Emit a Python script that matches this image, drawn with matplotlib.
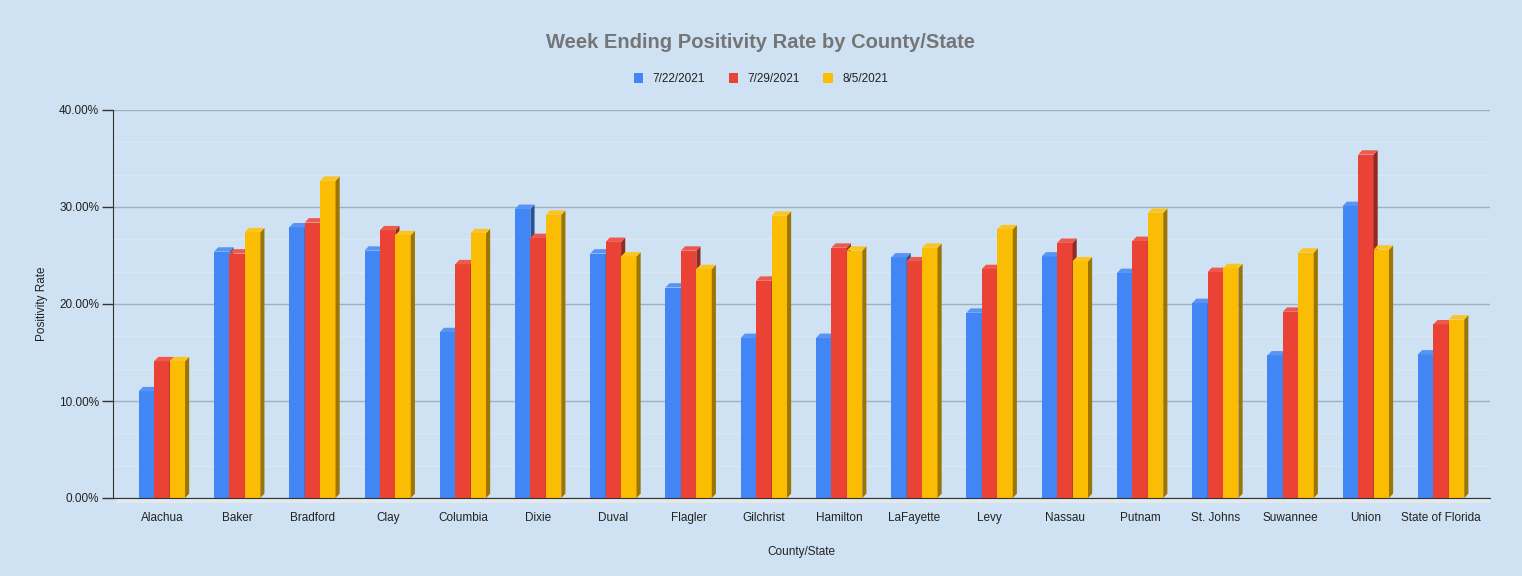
import matplotlib
matplotlib.use("Agg")
import matplotlib.pyplot as plt
from matplotlib.patches import Polygon
from matplotlib.ticker import FuncFormatter, MultipleLocator
import matplotlib.colors as mcolors
import numpy as np

plt.rcParams["font.family"] = ["Liberation Sans", "DejaVu Sans"]

counties = ["Alachua", "Baker", "Bradford", "Clay", "Columbia", "Dixie", "Duval",
            "Flagler", "Gilchrist", "Hamilton", "LaFayette", "Levy", "Nassau",
            "Putnam", "St. Johns", "Suwannee", "Union", "State of Florida"]
series_names = ["7/22/2021", "7/29/2021", "8/5/2021"]
wk_0722 = [11.0, 25.4, 27.9, 25.5, 17.1, 29.8, 25.2, 21.7, 16.5, 16.5, 24.8, 19.1,
           24.9, 23.2, 20.1, 14.7, 30.1, 14.8]
wk_0729 = [14.1, 25.2, 28.4, 27.6, 24.1, 26.8, 26.4, 25.5, 22.4, 25.8, 24.4, 23.6,
           26.3, 26.5, 23.3, 19.2, 35.4, 17.9]
wk_0805 = [14.1, 27.4, 32.7, 27.1, 27.3, 29.2, 24.9, 23.6, 29.1, 25.5, 25.8, 27.7,
           24.4, 29.4, 23.7, 25.3, 25.6, 18.4]
colors = ["#4285f4", "#ea4335", "#fbbc04"]

bg = "#cfe2f3"
W, H = 1522, 576
fig = plt.figure(figsize=(W / 100, H / 100), dpi=100, facecolor=bg)
ax = fig.add_axes([113 / W, (576 - 498) / H, (1490 - 113) / W, (498 - 110) / H])
ax.set_facecolor(bg)

x = np.arange(len(counties))
bw = 0.205
dx = 0.055   # depth in x (data units)
dy = 0.45    # depth in y (data units)

def shade(c, f):
    r, g, b = mcolors.to_rgb(c)
    return (r * f, g * f, b * f)

def light(c, f):
    r, g, b = mcolors.to_rgb(c)
    return (r + (1 - r) * f, g + (1 - g) * f, b + (1 - b) * f)

all_series = [wk_0722, wk_0729, wk_0805]
for si, (vals, col) in enumerate(zip(all_series, colors)):
    off = (si - 1) * bw
    xs = x + off
    bars = ax.bar(xs, vals, width=bw, color=col, zorder=3 + si * 0.1, linewidth=0)
    for b in bars:
        x0 = b.get_x()
        x1 = x0 + b.get_width()
        h = b.get_height()
        side = Polygon([(x1, 0), (x1 + dx, dy), (x1 + dx, h + dy), (x1, h)],
                       closed=True, facecolor=shade(col, 0.62), edgecolor="none",
                       zorder=3 + si * 0.1)
        top = Polygon([(x0, h), (x0 + dx, h + dy), (x1 + dx, h + dy), (x1, h)],
                      closed=True, facecolor=light(col, 0.12), edgecolor="none",
                      zorder=3 + si * 0.1)
        ax.add_patch(side)
        ax.add_patch(top)

ax.set_xlim(-0.65, 17.65)
ax.set_ylim(0, 40)
ax.yaxis.set_major_locator(MultipleLocator(10))
ax.yaxis.set_minor_locator(MultipleLocator(10 / 3))
ax.yaxis.set_major_formatter(FuncFormatter(lambda v, p: f"{v:.2f}%"))
ax.grid(axis="y", which="major", color="#9fb0bf", linewidth=1.0, zorder=1)
ax.grid(axis="y", which="minor", color="#dbe7f2", linewidth=1.0, zorder=1)
ax.set_xticks(x)
ax.set_xticklabels(counties, fontsize=8.5, color="#222222")
ax.tick_params(axis="x", length=0, pad=10)
ax.tick_params(axis="y", which="major", length=8, width=1, color="#333333",
               labelsize=8.5, labelcolor="#222222", pad=2)
ax.tick_params(axis="y", which="minor", length=0)
for s in ["top", "right"]:
    ax.spines[s].set_visible(False)
ax.spines["left"].set_color("#333333")
ax.spines["bottom"].set_color("#333333")
ax.spines["left"].set_zorder(5)
ax.spines["bottom"].set_zorder(5)

floor = Polygon([(-0.6, 0), (17.65, 0), (17.65, -0.55), (-0.6, -0.55)], closed=True,
                facecolor="#e4e9ee", edgecolor="none", clip_on=False, zorder=2)
ax.add_patch(floor)

ax.set_ylabel("Positivity Rate", fontsize=8.5, color="#222222", labelpad=8)
ax.set_xlabel("County/State", fontsize=8.5, color="#222222", labelpad=16)

fig.text(0.5, 1 - 43 / H, "Week Ending Positivity Rate by County/State",
         ha="center", va="center", fontsize=14.5, fontweight="bold", color="#757575")

handles = [plt.Rectangle((0, 0), 1, 1, facecolor=c) for c in colors]
fig.legend(handles, series_names, loc="center", bbox_to_anchor=(0.5, 1 - 79 / H),
           ncol=3, frameon=False, fontsize=8.5, handlelength=0.8, handleheight=0.9,
           columnspacing=2.0, handletextpad=0.8, labelcolor="#222222")

fig.savefig("out.png", dpi=100, facecolor=bg)
